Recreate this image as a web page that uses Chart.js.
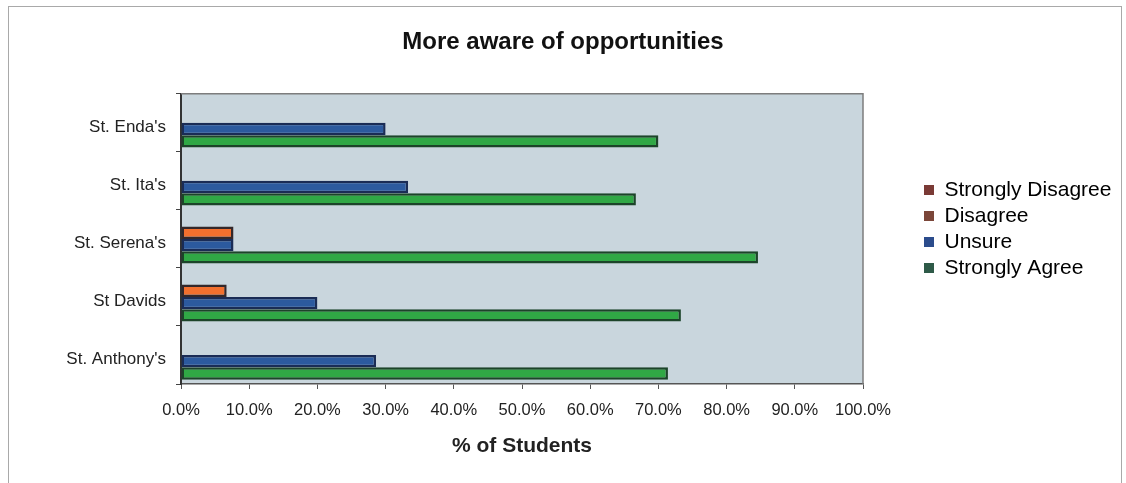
<!DOCTYPE html>
<html>
<head>
<meta charset="utf-8">
<title>More aware of opportunities</title>
<script src="https://cdn.jsdelivr.net/npm/chart.js@4.4.0/dist/chart.umd.min.js"></script>
<style>
  html, body { margin: 0; padding: 0; background: #fff; }
  #wrap { position: relative; width: 1126px; height: 483px; overflow: hidden; }
  #frame { position: absolute; left: 8px; top: 6px; width: 1112px; height: 495px; border: 1px solid #a9a9a9; pointer-events: none; }
  canvas { position: absolute; left: 0; top: 0; }
</style>
</head>
<body>
<div id="wrap">
  <canvas id="myChart" width="1126" height="483"></canvas>
  <div id="frame"></div>
</div>
<script>
  // schools and survey answers (% of students)
  const schools = ["St. Enda's", "St. Ita's", "St. Serena's", "St Davids", "St. Anthony's"];
  const stronglyDisagree = [0, 0, 0, 0, 0];
  const disagree = [0, 0, 7.7, 6.7, 0];
  const unsure = [30.0, 33.3, 7.7, 20.0, 28.6];
  const stronglyAgree = [70.0, 66.7, 84.6, 73.3, 71.4];

  const xTickLabels = ["0.0%", "10.0%", "20.0%", "30.0%", "40.0%", "50.0%",
    "60.0%", "70.0%", "80.0%", "90.0%", "100.0%"];

  // colours of the little legend squares
  const legendColors = ["#7a3a35", "#7b4639", "#2b4c8c", "#2e5a48"];

  Chart.defaults.font.family = "'Liberation Sans', Arial, sans-serif";
  Chart.defaults.color = "#222";

  // grey-blue plot area with a thin frame
  const plotBackground = {
    id: "plotBackground",
    beforeDraw(chart) {
      const { ctx, chartArea: a } = chart;
      ctx.save();
      ctx.fillStyle = "#c9d6dd";
      ctx.fillRect(a.left, a.top, a.width, a.height);
      ctx.restore();
    },
    afterDatasetsDraw(chart) {
      const { ctx, chartArea: a } = chart;
      ctx.save();
      ctx.strokeStyle = "#7d7d7d";
      ctx.lineWidth = 1.5;
      ctx.beginPath();
      ctx.moveTo(a.left, a.top);
      ctx.lineTo(a.right, a.top);
      ctx.lineTo(a.right, a.bottom);
      ctx.stroke();
      ctx.restore();
    },
  };

  // keep the legend a fixed width and move it off the plot edge
  const legendPlacement = {
    id: "legendPlacement",
    beforeLayout(chart) {
      const lg = chart.legend;
      if (lg && !lg._fixedFit) {
        const fit = lg.fit;
        lg.fit = function () {
          fit.call(this);
          this.width = 263;
        };
        lg._fixedFit = true;
      }
    },
    afterLayout(chart) {
      const lg = chart.legend;
      if (!lg) return;
      lg.left += 56;
      lg.right += 56;
      lg.top -= 10;
      lg.bottom -= 10;
    },
  };

  const ctx = document.getElementById("myChart");
  const chart = new Chart(ctx, {
    type: "bar",
    data: {
      labels: schools,
      datasets: [
        {
          label: "Strongly Disagree",
          data: stronglyDisagree,
          backgroundColor: "#7b3b36",
          borderColor: "#3a1f1d",
          borderWidth: 0,
        },
        {
          label: "Disagree",
          data: disagree,
          backgroundColor: "#f2702e",
          borderColor: "#33282a",
          borderWidth: 2.5,
        },
        {
          label: "Unsure",
          data: unsure,
          backgroundColor: "#2c5a9e",
          borderColor: "#1a2c55",
          borderWidth: 2.5,
        },
        {
          label: "Strongly Agree",
          data: stronglyAgree,
          backgroundColor: "#30a845",
          borderColor: "#1c4429",
          borderWidth: 2.5,
        },
      ],
    },
    options: {
      responsive: false,
      animation: false,
      indexAxis: "y",
      layout: { padding: { top: 10, left: 0, right: 0, bottom: 0 } },
      datasets: {
        bar: { categoryPercentage: 0.85, barPercentage: 1.0, borderSkipped: false },
      },
      plugins: {
        title: {
          display: true,
          text: "More aware of opportunities",
          color: "#111",
          font: { size: 24, weight: "bold" },
          padding: { top: 18, bottom: 37 },
        },
        legend: {
          position: "right",
          align: "center",
          fullSize: false,
          labels: {
            boxWidth: 10,
            boxHeight: 10,
            padding: 5,
            color: "#222",
            font: { size: 21 },
            generateLabels: (c) =>
              c.data.datasets.map((ds, i) => ({
                text: ds.label,
                fillStyle: legendColors[i],
                strokeStyle: legendColors[i],
                lineWidth: 0,
                datasetIndex: i,
                hidden: false,
              })),
          },
        },
        tooltip: { enabled: false },
      },
      scales: {
        x: {
          min: 0,
          max: 100,
          ticks: {
            stepSize: 10,
            padding: 12,
            color: "#222",
            font: { size: 16.5 },
            callback: (value, index) => xTickLabels[index],
          },
          grid: { drawOnChartArea: false, tickLength: 5, color: "#555" },
          border: { color: "#555", width: 1.5 },
          title: {
            display: true,
            text: "% of Students",
            color: "#222",
            font: { size: 21, weight: "bold" },
            padding: { top: 0, bottom: 24 },
          },
          afterFit: (scale) => {
            scale.height = 99;
          },
        },
        y: {
          ticks: { padding: 10, labelOffset: 4, color: "#222", font: { size: 17 } },
          grid: { drawOnChartArea: false, offset: true, tickLength: 5, color: "#444" },
          border: { color: "#333", width: 2 },
          afterFit: (scale) => {
            scale.width = 181;
          },
        },
      },
    },
    plugins: [plotBackground, legendPlacement],
  });
</script>
</body>
</html>
